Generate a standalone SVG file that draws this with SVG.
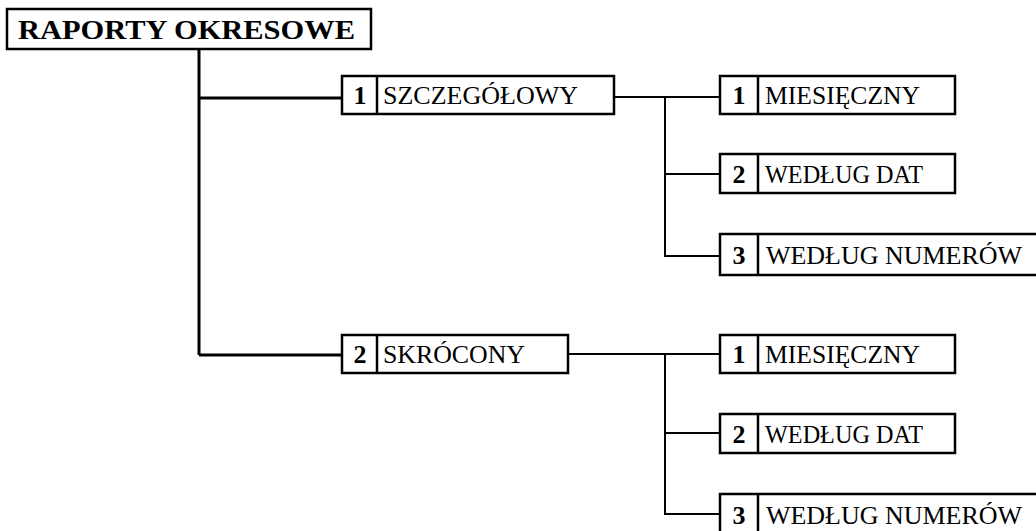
<svg xmlns="http://www.w3.org/2000/svg" width="1036" height="531" viewBox="0 0 1036 531">
<style>
.box{fill:#fff;stroke:#000;stroke-width:2.5}
.div{stroke:#000;stroke-width:2.5}
.ln{fill:none;stroke:#000;stroke-width:2}
.main{fill:none;stroke:#000;stroke-width:3}
.t{font-family:"Liberation Serif","Times New Roman",serif;font-size:26px;fill:#000}
.n{font-family:"Liberation Serif","Times New Roman",serif;font-size:26px;font-weight:bold;fill:#000;text-anchor:middle}
.title{font-family:"Liberation Serif","Times New Roman",serif;font-size:28px;font-weight:bold;fill:#000}
</style>
<rect width="1036" height="531" fill="#fff"/>
<g id="connectors">
<path class="main" d="M199 49 V355 M199 98 H342 M199 355 H342"/>
<path class="ln" d="M614 97 H720 M665 97 V256 H720 M665 174 H720"/>
<path class="ln" d="M568 354 H720 M665 354 V514 H720 M665 433 H720"/>
</g>
<g id="title">
<rect class="box" x="7" y="9" width="364" height="40"/>
<text class="title" x="18" y="39" textLength="337" lengthAdjust="spacingAndGlyphs">RAPORTY OKRESOWE</text>
</g>
<g id="n1">
<rect class="box" x="342" y="76" width="272" height="38"/>
<line class="div" x1="377" y1="76" x2="377" y2="114"/>
<text class="n" x="360" y="104">1</text>
<text class="t" x="383" y="104" textLength="195" lengthAdjust="spacingAndGlyphs">SZCZEGÓŁOWY</text>
</g>
<g id="n1-1">
<rect class="box" x="720" y="76" width="235" height="38"/>
<line class="div" x1="758" y1="76" x2="758" y2="114"/>
<text class="n" x="739" y="104">1</text>
<text class="t" x="765" y="104" textLength="155" lengthAdjust="spacingAndGlyphs">MIESIĘCZNY</text>
</g>
<g id="n1-2">
<rect class="box" x="720" y="154" width="235" height="39"/>
<line class="div" x1="758" y1="154" x2="758" y2="193"/>
<text class="n" x="739" y="183">2</text>
<text class="t" x="765" y="183" textLength="158" lengthAdjust="spacingAndGlyphs">WEDŁUG DAT</text>
</g>
<g id="n1-3">
<rect class="box" x="720" y="234" width="330" height="41"/>
<line class="div" x1="758" y1="234" x2="758" y2="275"/>
<text class="n" x="739" y="264">3</text>
<text class="t" x="766" y="264" textLength="256" lengthAdjust="spacingAndGlyphs">WEDŁUG NUMERÓW</text>
</g>
<g id="n2">
<rect class="box" x="342" y="335" width="226" height="38"/>
<line class="div" x1="377" y1="335" x2="377" y2="373"/>
<text class="n" x="360" y="363">2</text>
<text class="t" x="383" y="363" textLength="142" lengthAdjust="spacingAndGlyphs">SKRÓCONY</text>
</g>
<g id="n2-1">
<rect class="box" x="720" y="335" width="235" height="38"/>
<line class="div" x1="758" y1="335" x2="758" y2="373"/>
<text class="n" x="739" y="363">1</text>
<text class="t" x="765" y="363" textLength="155" lengthAdjust="spacingAndGlyphs">MIESIĘCZNY</text>
</g>
<g id="n2-2">
<rect class="box" x="720" y="414" width="235" height="39"/>
<line class="div" x1="758" y1="414" x2="758" y2="453"/>
<text class="n" x="739" y="443">2</text>
<text class="t" x="765" y="443" textLength="158" lengthAdjust="spacingAndGlyphs">WEDŁUG DAT</text>
</g>
<g id="n2-3">
<rect class="box" x="720" y="494" width="330" height="41"/>
<line class="div" x1="758" y1="494" x2="758" y2="535"/>
<text class="n" x="739" y="524">3</text>
<text class="t" x="766" y="524" textLength="256" lengthAdjust="spacingAndGlyphs">WEDŁUG NUMERÓW</text>
</g>
</svg>
